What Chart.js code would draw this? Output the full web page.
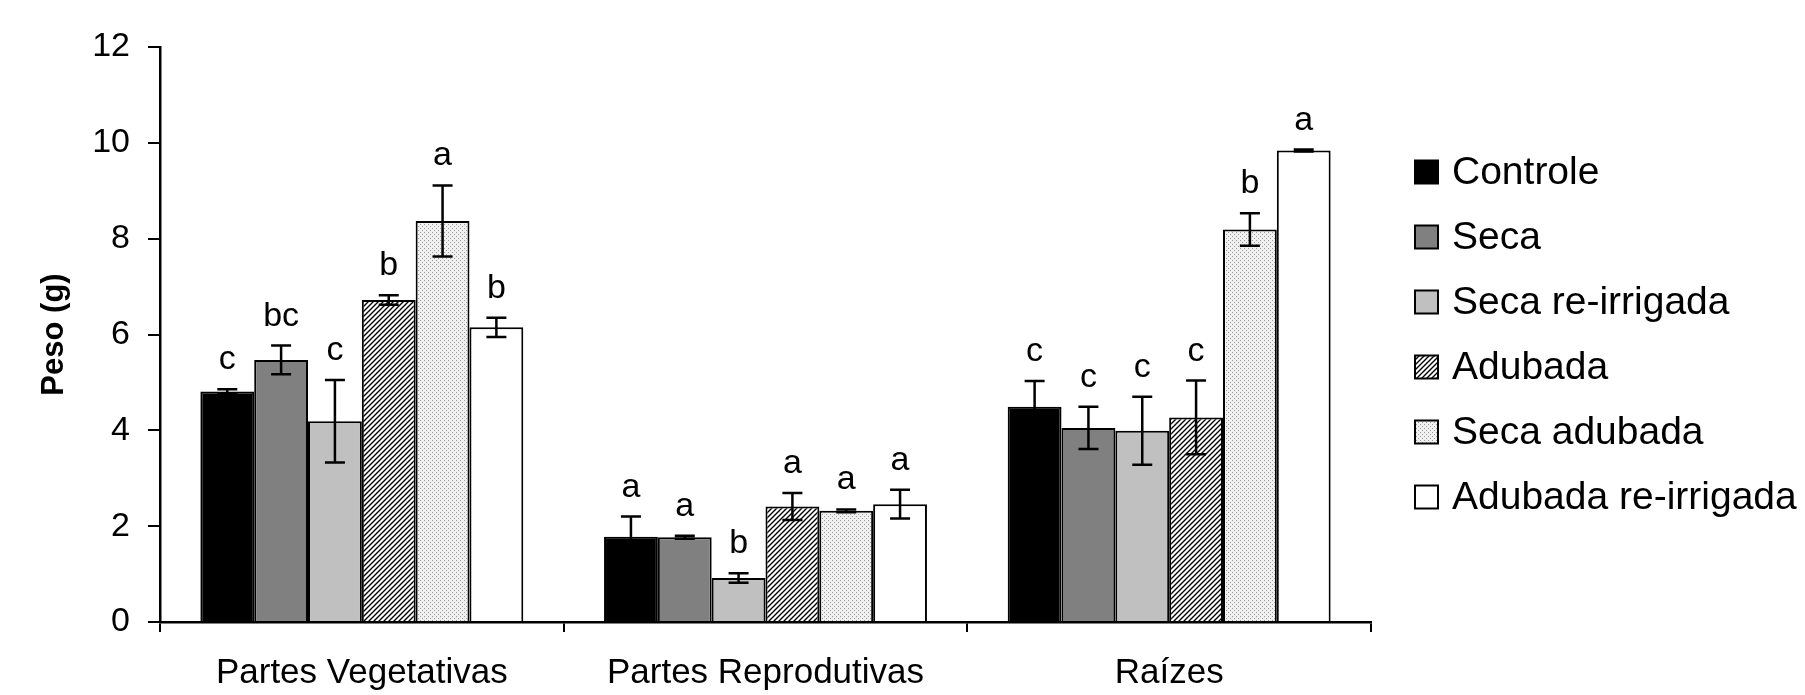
<!DOCTYPE html>
<html lang="pt">
<head>
<meta charset="UTF-8">
<title>Peso (g)</title>
<script src="https://cdn.jsdelivr.net/npm/chart.js"></script>
<style>
    html, body { margin: 0; padding: 0; background: #fff; }
</style>
</head>
<body>
<canvas id="pesoChart" width="1805" height="695"></canvas>
<script>
    // categories and treatments
    const categories = ['Partes Vegetativas', 'Partes Reprodutivas', 'Raízes'];
    const treatments = ['Controle', 'Seca', 'Seca re-irrigada', 'Adubada', 'Seca adubada', 'Adubada re-irrigada'];
    const yTicks = [0, 2, 4, 6, 8, 10, 12];

    // mean weight (g) per treatment, one value per category
    const controle = [4.81, 1.78, 4.49];
    const seca = [5.47, 1.77, 4.05];
    const secaReirrigada = [4.19, 0.92, 3.99];
    const adubada = [6.72, 2.41, 4.27];
    const secaAdubada = [8.37, 2.32, 8.19];
    const adubadaReirrigada = [6.15, 2.46, 9.84];

    // error bars (+/-)
    const controleErr = [0.05, 0.42, 0.54];
    const secaErr = [0.30, 0.03, 0.44];
    const secaReirrigadaErr = [0.86, 0.10, 0.71];
    const adubadaErr = [0.10, 0.28, 0.77];
    const secaAdubadaErr = [0.74, 0.03, 0.34];
    const adubadaReirrigadaErr = [0.20, 0.30, 0.02];

    // significance letters
    const controleLetters = ['c', 'a', 'c'];
    const secaLetters = ['bc', 'a', 'c'];
    const secaReirrigadaLetters = ['c', 'b', 'c'];
    const adubadaLetters = ['b', 'a', 'c'];
    const secaAdubadaLetters = ['a', 'a', 'b'];
    const adubadaReirrigadaLetters = ['b', 'a', 'a'];

    const values = [controle, seca, secaReirrigada, adubada, secaAdubada, adubadaReirrigada];
    const errors = [controleErr, secaErr, secaReirrigadaErr, adubadaErr, secaAdubadaErr, adubadaReirrigadaErr];
    const letters = [controleLetters, secaLetters, secaReirrigadaLetters, adubadaLetters, secaAdubadaLetters, adubadaReirrigadaLetters];

    const FONT = "'Liberation Sans', Arial, Helvetica, sans-serif";
    Chart.defaults.font.family = FONT;
    Chart.defaults.color = '#000';

    // diagonal hatch fill
    function hatchPattern() {
        const c = document.createElement('canvas');
        c.width = 5; c.height = 5;
        const g = c.getContext('2d');
        g.fillStyle = '#fff';
        g.fillRect(0, 0, 5, 5);
        g.strokeStyle = '#000';
        g.lineWidth = 1.4;
        g.beginPath();
        g.moveTo(-1, 6); g.lineTo(6, -1);
        g.moveTo(-3.5, 3.5); g.lineTo(3.5, -3.5);
        g.moveTo(1.5, 8.5); g.lineTo(8.5, 1.5);
        g.stroke();
        return g.createPattern(c, 'repeat');
    }

    // fine stipple fill
    function dotPattern() {
        const c = document.createElement('canvas');
        c.width = 4; c.height = 4;
        const g = c.getContext('2d');
        g.fillStyle = '#f0f0f0';
        g.fillRect(0, 0, 4, 4);
        g.fillStyle = '#999';
        g.fillRect(0, 0, 1, 1);
        g.fillRect(2, 2, 1, 1);
        return g.createPattern(c, 'repeat');
    }

    const fills = ['#000000', '#808080', '#c0c0c0', hatchPattern(), dotPattern(), '#ffffff'];

    // error bars + letters drawn on top of the bars
    const errorBars = {
        id: 'errorBars',
        afterDatasetsDraw(chart) {
            const ctx = chart.ctx;
            const y = chart.scales.y;
            ctx.save();
            ctx.strokeStyle = '#000';
            ctx.lineWidth = 2.5;
            ctx.fillStyle = '#000';
            ctx.font = '34px ' + FONT;
            ctx.textAlign = 'center';
            ctx.textBaseline = 'alphabetic';
            chart.data.datasets.forEach((ds, di) => {
                const meta = chart.getDatasetMeta(di);
                meta.data.forEach((bar, j) => {
                    const v = ds.data[j];
                    const e = errors[di][j];
                    const top = y.getPixelForValue(v + e);
                    const bot = y.getPixelForValue(v - e);
                    const cap = 10;
                    ctx.beginPath();
                    ctx.moveTo(bar.x, top); ctx.lineTo(bar.x, bot);
                    ctx.moveTo(bar.x - cap, top); ctx.lineTo(bar.x + cap, top);
                    ctx.moveTo(bar.x - cap, bot); ctx.lineTo(bar.x + cap, bot);
                    ctx.stroke();
                    ctx.fillText(letters[di][j], bar.x, top - 20);
                });
            });
            ctx.restore();
        }
    };

    // legend on the right
    const sideLegend = {
        id: 'sideLegend',
        afterDraw(chart) {
            const ctx = chart.ctx;
            const area = chart.chartArea;
            const rowH = 65;
            const x0 = area.right + 44;
            const y0 = (area.top + area.bottom) / 2 - 2.5 * rowH;
            ctx.save();
            ctx.font = '39px ' + FONT;
            ctx.textBaseline = 'middle';
            ctx.textAlign = 'left';
            chart.data.datasets.forEach((ds, i) => {
                const yc = y0 + i * rowH;
                ctx.fillStyle = ds.backgroundColor;
                ctx.fillRect(x0, yc - 11.5, 23, 23);
                ctx.strokeStyle = '#000';
                ctx.lineWidth = 2;
                ctx.strokeRect(x0, yc - 11.5, 23, 23);
                ctx.fillStyle = '#000';
                ctx.fillText(ds.label, x0 + 37, yc + 1);
            });
            ctx.restore();
        }
    };

    new Chart(document.getElementById('pesoChart'), {
        type: 'bar',
        data: {
            labels: categories,
            datasets: treatments.map((name, i) => ({
                label: name,
                data: values[i],
                backgroundColor: fills[i],
                borderColor: '#000',
                borderWidth: 2,
                categoryPercentage: 0.8,
                barPercentage: 1.0
            }))
        },
        options: {
            responsive: false,
            animation: false,
            layout: { padding: { top: 47, right: 434, left: 0, bottom: 0 } },
            plugins: {
                legend: { display: false },
                tooltip: { enabled: false }
            },
            scales: {
                x: {
                    grid: { display: true, drawOnChartArea: false, drawTicks: true, tickLength: 10, color: '#000', lineWidth: 2, offset: true },
                    border: { display: true, color: '#000', width: 2.5 },
                    ticks: { color: '#000', font: { size: 35 }, padding: 20 },
                    afterFit: s => { s.height = 73; }
                },
                y: {
                    min: 0,
                    max: 12,
                    afterBuildTicks: s => { s.ticks = yTicks.map(v => ({ value: v })); },
                    grid: { drawOnChartArea: false, drawTicks: true, tickLength: 12, color: '#000', lineWidth: 2 },
                    border: { display: true, color: '#000', width: 2.5 },
                    ticks: { color: '#000', font: { size: 34 }, padding: 18 },
                    title: {
                        display: true,
                        text: 'Peso (g)',
                        color: '#000',
                        font: { size: 31, weight: 'bold' },
                        padding: { top: 36, bottom: 0 }
                    },
                    afterFit: s => { s.width = 160; }
                }
            }
        },
        plugins: [errorBars, sideLegend]
    });
</script>
</body>
</html>
